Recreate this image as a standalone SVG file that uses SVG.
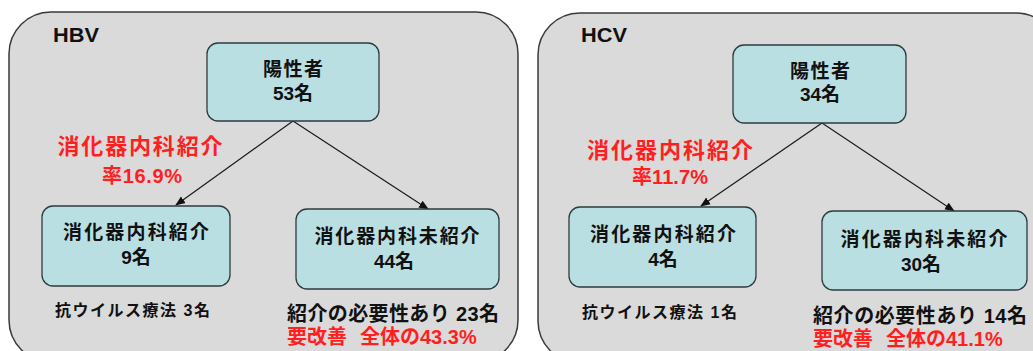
<svg xmlns="http://www.w3.org/2000/svg" width="1033" height="351" viewBox="0 0 1033 351">
<style>
.panel{fill:#dadada;stroke:#3a3a3a;stroke-width:1.5}
.box{fill:#b9dfe3;stroke:#2e3b3e;stroke-width:1.3}
.t{font-family:"Liberation Sans","Noto Sans CJK JP",sans-serif;font-weight:bold;fill:#111}
.red{fill:#ff1f1f}
.c{text-anchor:middle}
.conn{stroke:#1a1a1a;stroke-width:1.2;fill:none;marker-end:url(#ah)}
</style>
<defs>
<marker id="ah" markerUnits="userSpaceOnUse" markerWidth="10" markerHeight="10" refX="9" refY="5" orient="auto">
<path d="M0,1 L10,5 L0,9 Z" fill="#111"/>
</marker>
</defs>
<rect width="1033" height="351" fill="#ffffff"/>

<g id="panel-hbv">
<rect class="panel" x="9" y="12" width="509" height="350" rx="42"/>
<text class="t" x="53" y="42" font-size="20" textLength="46" lengthAdjust="spacingAndGlyphs">HBV</text>
</g>
<g id="panel-hcv">
<rect class="panel" x="538" y="13" width="520" height="350" rx="42"/>
<text class="t" x="581" y="42" font-size="20" textLength="46" lengthAdjust="spacingAndGlyphs">HCV</text>
</g>

<g id="connectors">
<line class="conn" x1="293" y1="121" x2="176" y2="205"/>
<line class="conn" x1="293" y1="121" x2="428" y2="209"/>
<line class="conn" x1="822" y1="123" x2="701" y2="206"/>
<line class="conn" x1="822" y1="123" x2="954" y2="211"/>
</g>

<g id="hbv-positive">
<rect class="box" x="207" y="43" width="172" height="78" rx="11"/>
<text class="t c" x="293" y="76" font-size="19" textLength="60">陽性者</text>
<text class="t c" x="293" y="100" font-size="19">53名</text>
</g>
<g id="hbv-rate">
<text class="t red c" x="140" y="154" font-size="22" textLength="165">消化器内科紹介</text>
<text class="t red c" x="142" y="183" font-size="20" textLength="80">率16.9%</text>
</g>
<g id="hbv-referred">
<rect class="box" x="42" y="206" width="188" height="80" rx="11"/>
<text class="t c" x="136" y="239" font-size="19" textLength="146">消化器内科紹介</text>
<text class="t c" x="136" y="264" font-size="19">9名</text>
</g>
<g id="hbv-unreferred">
<rect class="box" x="296" y="209" width="203" height="80" rx="11"/>
<text class="t c" x="397" y="243" font-size="19" textLength="165">消化器内科未紹介</text>
<text class="t c" x="394" y="268" font-size="19">44名</text>
</g>
<g id="hbv-antiviral">
<text class="t" x="55" y="316" font-size="16" textLength="155">抗ウイルス療法 3名</text>
</g>
<g id="hbv-need">
<text class="t" x="287" y="321" font-size="20" textLength="212">紹介の必要性あり 23名</text>
<text class="t red" x="287" y="344" font-size="20">要改善<tspan dx="13">全体の43.3%</tspan></text>
</g>

<g id="hcv-positive">
<rect class="box" x="733" y="45" width="173" height="78" rx="11"/>
<text class="t c" x="820" y="78" font-size="19" textLength="60">陽性者</text>
<text class="t c" x="820" y="101" font-size="19">34名</text>
</g>
<g id="hcv-rate">
<text class="t red c" x="670" y="158" font-size="22" textLength="166">消化器内科紹介</text>
<text class="t red c" x="670" y="184" font-size="20" textLength="76">率11.7%</text>
</g>
<g id="hcv-referred">
<rect class="box" x="569" y="207" width="187" height="80" rx="11"/>
<text class="t c" x="663" y="241" font-size="19" textLength="146">消化器内科紹介</text>
<text class="t c" x="663" y="266" font-size="19">4名</text>
</g>
<g id="hcv-unreferred">
<rect class="box" x="822" y="211" width="205" height="79" rx="11"/>
<text class="t c" x="924" y="246" font-size="19" textLength="167">消化器内科未紹介</text>
<text class="t c" x="921" y="271" font-size="19">30名</text>
</g>
<g id="hcv-antiviral">
<text class="t" x="582" y="318" font-size="16" textLength="155">抗ウイルス療法 1名</text>
</g>
<g id="hcv-need">
<text class="t" x="813" y="323" font-size="20" textLength="214">紹介の必要性あり 14名</text>
<text class="t red" x="813" y="346" font-size="20">要改善<tspan dx="13">全体の41.1%</tspan></text>
</g>
</svg>
